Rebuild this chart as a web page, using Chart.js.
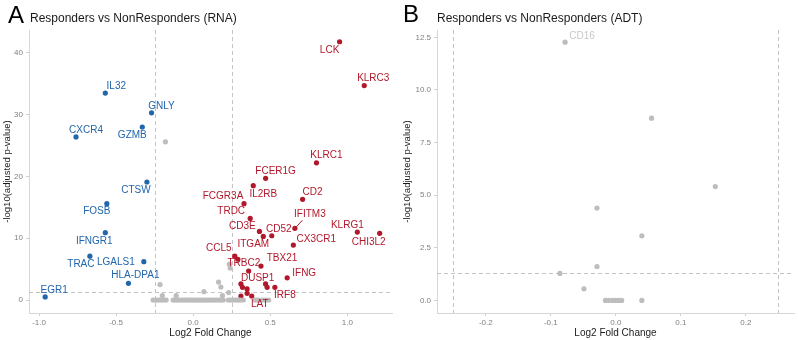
<!DOCTYPE html>
<html>
<head>
<meta charset="utf-8">
<script src="https://cdn.jsdelivr.net/npm/chart.js@4.4.1/dist/chart.umd.min.js"></script>
<style>
  body { margin: 0; background: #fff; font-family: "Liberation Sans", Arial, sans-serif; }
  #wrap { position: relative; width: 798px; height: 340px; overflow: hidden; }
  canvas { position: absolute; top: 0; }
  .tag { position: absolute; font-size: 24px; line-height: 24px; color: #000; }
  .ttl { position: absolute; font-size: 12px; line-height: 12px; color: #1a1a1a; white-space: nowrap; }
</style>
</head>
<body>
<div id="wrap">
  <canvas id="rnaChart" width="400" height="340" style="left:0"></canvas>
  <canvas id="adtChart" width="398" height="340" style="left:400px"></canvas>
  <div class="tag" style="left:8px;top:3px">A</div>
  <div class="ttl" style="left:30px;top:12px">Responders vs NonResponders (RNA)</div>
  <div class="tag" style="left:403px;top:2px">B</div>
  <div class="ttl" style="left:437px;top:12px">Responders vs NonResponders (ADT)</div>
</div>
<script>
// ---- RNA panel data (log2 fold change, -log10 adjusted p) ----
const upGenes = ['LCK', 'KLRC3', 'KLRC1', 'FCER1G', 'IL2RB', 'CD2', 'FCGR3A', 'TRDC', 'IFITM3', 'CD3E',
                 'CD52', 'ITGAM', 'CX3CR1', 'KLRG1', 'CHI3L2', 'CCL5', 'TRBC2', 'TBX21', 'DUSP1', 'IFNG',
                 'IRF8', 'LAT', '', '', '', '', '', '', ''];
const upFC = [0.95, 1.11, 0.80, 0.47, 0.39, 0.71, 0.33, 0.37, 0.66, 0.43,
              0.51, 0.455, 0.65, 1.065, 1.21, 0.27, 0.29, 0.44, 0.36, 0.61,
              0.53, 0.38, 0.31, 0.32, 0.35, 0.47, 0.48, 0.31, 0.35];
const upP = [41.8, 34.7, 22.2, 19.7, 18.5, 16.3, 15.6, 13.2, 11.6, 11.1,
             10.4, 10.3, 8.9, 11.0, 10.8, 7.1, 6.6, 5.5, 4.7, 3.6,
             2.06, 0.65, 2.6, 2.06, 1.8, 2.6, 2.06, 0.65, 1.08];

const downGenes = ['IL32', 'GNLY', 'CXCR4', 'GZMB', 'CTSW', 'FOSB', 'IFNGR1', 'TRAC', 'LGALS1', 'HLA-DPA1', 'EGR1'];
const downFC = [-0.57, -0.27, -0.76, -0.33, -0.30, -0.56, -0.57, -0.67, -0.32, -0.42, -0.96];
const downP = [33.5, 30.3, 26.4, 28.0, 19.1, 15.6, 10.9, 7.1, 6.2, 2.7, 0.5];

const nsFC = [-0.18, -0.215, -0.20, -0.11, 0.07, 0.165, 0.18, 0.19, 0.23, 0.235, 0.24, 0.41,
              -0.26, -0.245, -0.232, -0.22, -0.205, -0.19, -0.175,
              -0.13, -0.118, -0.104, -0.09, -0.077, -0.063, -0.05, -0.036, -0.022, -0.01, 0.004,
              0.018, 0.03, 0.045, 0.058, 0.072, 0.085, 0.1, 0.112, 0.126, 0.14, 0.153, 0.168, 0.18, 0.195,
              0.228, 0.242, 0.26, 0.275, 0.29, 0.305, 0.325, 0.40, 0.425, 0.45, 0.47, 0.49];
const nsP = [25.6, 2.5, 0.7, 0.7, 1.35, 2.9, 2.1, 0.7, 1.2, 5.8, 5.2, 0,
             0, 0, 0, 0, 0, 0, 0,
             0, 0, 0, 0, 0, 0, 0, 0, 0, 0, 0,
             0, 0, 0, 0, 0, 0, 0, 0, 0, 0, 0, 0, 0, 0,
             0, 0, 0, 0, 0, 0, 0, 0, 0, 0, 0, 0];

// ---- ADT panel data ----
const adtNames = ['CD16', '', '', '', '', '', '', '', '', '', '', '', '', '', ''];
const adtFC = [-0.078, 0.055, 0.153, -0.029, 0.040, -0.029, -0.086, -0.049, -0.016, -0.011, -0.005, 0.0, 0.004, 0.009, 0.040];
const adtP = [12.27, 8.66, 5.41, 4.39, 3.07, 1.61, 1.28, 0.55, 0, 0, 0, 0, 0, 0, 0];

// cutoffs shown as dashed lines
const fcCutoff = 0.25;
const pCutoff = 1.3;

// label offsets in pixels from the point (dx, dy), line = draw a connector
const labelNudge = {
  LCK: [-10, 9], KLRC3: [9, -7], KLRC1: [10, -8], FCER1G: [10, -7], IL2RB: [10, 9], CD2: [10, -7],
  FCGR3A: [-21, -7], TRDC: [-19, -7], IFITM3: [15, -14, true], CD3E: [-17, -5], CD52: [7, -7],
  ITGAM: [-10, 8], CX3CR1: [23, -6], KLRG1: [-10, -7], CHI3L2: [-11, 9], CCL5: [-16, -8],
  TRBC2: [6, 4], TBX21: [21, -8], DUSP1: [9, 7], IFNG: [17, -5], IRF8: [10, 8], LAT: [8, 8],
  IL32: [11, -7], GNLY: [10, -7], CXCR4: [10, -7], GZMB: [-10, 8], CTSW: [-11, 8], FOSB: [-10, 8],
  IFNGR1: [-11, 9], TRAC: [-9, 8], LGALS1: [-28, 1], 'HLA-DPA1': [7, -8], EGR1: [9, -7],
  CD16: [17, -6]
};

const RED = '#b2182b', BLUE = '#2166ac', GREY = '#bdbdbd';

function pts(xs, ys) {
  return xs.map((x, i) => ({ x: x, y: ys[i] }));
}

const cutoffLines = {
  id: 'cutoffLines',
  beforeDatasetsDraw(chart) {
    const { ctx, chartArea: a, scales: { x, y } } = chart;
    ctx.save();
    ctx.strokeStyle = '#c4c4c4';
    ctx.lineWidth = 1;
    ctx.setLineDash([4, 3]);
    [-fcCutoff, fcCutoff].forEach(v => {
      const px = Math.round(x.getPixelForValue(v)) + 0.5;
      ctx.beginPath(); ctx.moveTo(px, a.top); ctx.lineTo(px, a.bottom); ctx.stroke();
    });
    const py = Math.round(y.getPixelForValue(pCutoff)) + 0.5;
    ctx.beginPath(); ctx.moveTo(a.left, py); ctx.lineTo(a.right, py); ctx.stroke();
    ctx.restore();
  }
};

const geneLabels = {
  id: 'geneLabels',
  afterDatasetsDraw(chart) {
    const ctx = chart.ctx;
    ctx.save();
    ctx.font = '10px "Liberation Sans", Arial, sans-serif';
    ctx.textAlign = 'center';
    ctx.textBaseline = 'middle';
    chart.data.datasets.forEach((ds, di) => {
      if (!ds.names) return;
      chart.getDatasetMeta(di).data.forEach((el, i) => {
        const name = ds.names[i];
        if (!name) return;
        const n = labelNudge[name] || [8, -7];
        ctx.fillStyle = ds.labelColor;
        ctx.fillText(name, el.x + n[0], el.y + n[1]);
        if (n[2]) {
          ctx.strokeStyle = ds.labelColor;
          ctx.lineWidth = 1;
          ctx.beginPath();
          ctx.moveTo(el.x + 1, el.y - 1);
          ctx.lineTo(el.x + n[0] * 0.5, el.y + n[1] * 0.58);
          ctx.stroke();
        }
      });
    });
    ctx.restore();
  }
};

function axisFont(size) {
  return { family: '"Liberation Sans", Arial, sans-serif', size: size };
}

function volcano(id, datasets, xr, yr, xStep, yStep, yDigits, yWidth, padRight) {
  return new Chart(document.getElementById(id), {
    type: 'scatter',
    data: { datasets: datasets },
    options: {
      responsive: false,
      animation: false,
      layout: { padding: { top: 30, right: padRight, left: 0, bottom: 0 } },
      plugins: { legend: { display: false }, tooltip: { enabled: false } },
      elements: { point: { radius: 2.6, borderWidth: 0 } },
      scales: {
        x: {
          min: xr[0], max: xr[1],
          afterFit: s => { s.height = 27; },
          ticks: { stepSize: xStep, includeBounds: false, padding: 2, color: '#808080', font: axisFont(8),
                   callback: v => v.toFixed(1) },
          grid: { drawOnChartArea: false, tickLength: 3, color: '#cfcfcf' },
          border: { color: '#d6d6d6', width: 1 },
          title: { display: true, text: 'Log2 Fold Change', color: '#1a1a1a', font: axisFont(10),
                   padding: { top: 0, bottom: 1 } }
        },
        y: {
          min: yr[0], max: yr[1],
          afterFit: s => { s.width = yWidth; },
          ticks: { stepSize: yStep, includeBounds: false, padding: 3, color: '#808080', font: axisFont(8),
                   callback: v => v.toFixed(yDigits) },
          grid: { drawOnChartArea: false, tickLength: 3, color: '#cfcfcf' },
          border: { color: '#d6d6d6', width: 1 },
          title: { display: true, text: '-log10(adjusted p-value)', color: '#1a1a1a', font: axisFont(9.5),
                   padding: { top: 2, bottom: 0 } }
        }
      }
    },
    plugins: [cutoffLines, geneLabels]
  });
}

volcano('rnaChart', [
  { data: pts(nsFC, nsP), backgroundColor: GREY },
  { data: pts(downFC, downP), backgroundColor: BLUE, names: downGenes, labelColor: BLUE },
  { data: pts(upFC, upP), backgroundColor: RED, names: upGenes, labelColor: RED }
], [-1.065, 1.29], [-2.1, 43.7], 0.5, 10, 0, 29, 8);

volcano('adtChart', [
  { data: pts(adtFC, adtP), backgroundColor: GREY, names: adtNames, labelColor: '#c8c8c8' }
], [-0.275, 0.274], [-0.6, 12.85], 0.1, 2.5, 1, 37, 3);
</script>
</body>
</html>
